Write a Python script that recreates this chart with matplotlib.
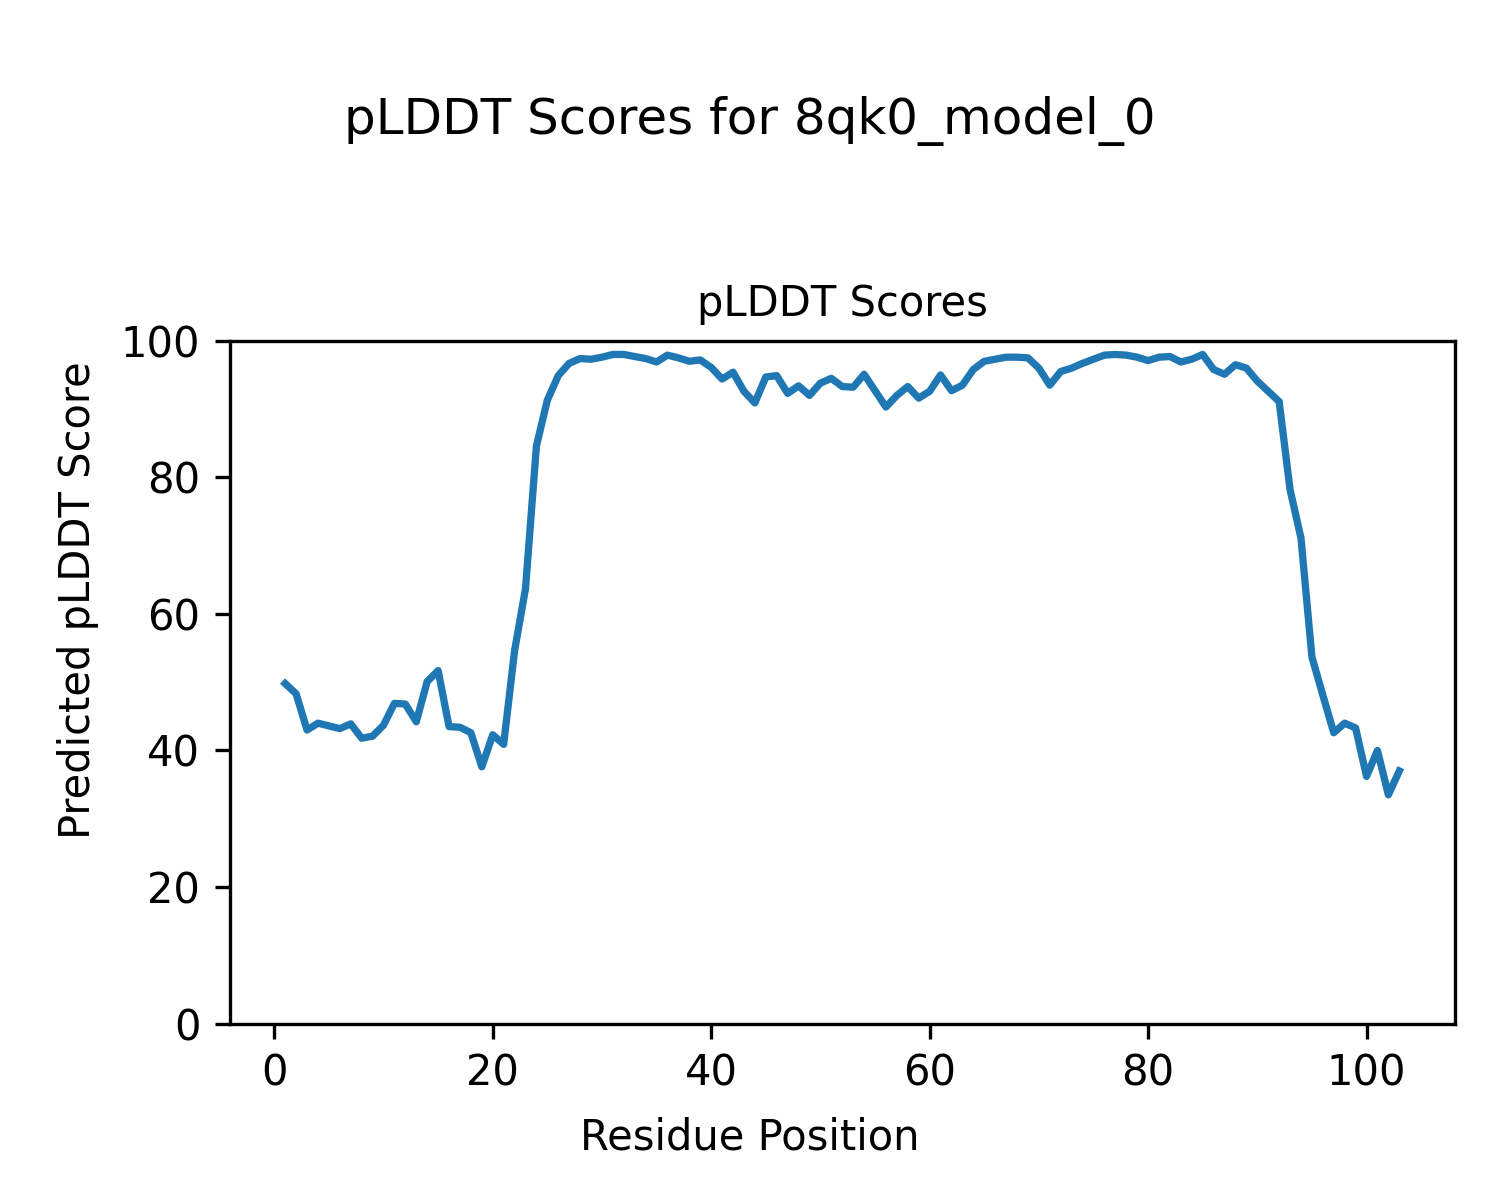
import matplotlib
matplotlib.use('Agg')
import matplotlib.pyplot as plt
import numpy as np

model_name = '8qk0_model_0'

# residue positions 1..103
residues = list(range(1, 104))

# pLDDT per residue
plddt = [
    49.8, 48.3, 43.0, 44.0, 43.6, 43.2, 43.9, 41.8, 42.1, 43.7,
    46.9, 46.8, 44.2, 50.1, 51.7, 43.5, 43.4, 42.6, 37.6, 42.3,
    40.9, 54.6, 63.7, 84.6, 91.3, 94.9, 96.7, 97.4, 97.3, 97.6,
    98.0, 98.0, 97.7, 97.4, 96.9, 97.9, 97.5, 97.0, 97.2, 96.1,
    94.4, 95.4, 92.6, 90.9, 94.7, 94.9, 92.3, 93.4, 92.0, 93.8,
    94.5, 93.3, 93.2, 95.1, 92.7, 90.3, 92.0, 93.3, 91.6, 92.6,
    95.0, 92.7, 93.5, 95.8, 97.0, 97.3, 97.6, 97.6, 97.5, 96.0,
    93.5, 95.5, 96.0, 96.7, 97.3, 97.9, 98.0, 97.9, 97.6, 97.1,
    97.6, 97.7, 96.9, 97.3, 98.0, 95.8, 95.1, 96.5, 96.0, 94.1,
    92.6, 91.1, 78.2, 71.1, 53.7, 48.1, 42.6, 44.0, 43.3, 36.2,
    40.0, 33.5, 37.0,
]

fig = plt.figure(figsize=(5, 4), dpi=300)
ax = fig.add_axes([0.153, 0.147, 0.817, 0.569])

ax.plot(residues, plddt, color='#1f77b4', linewidth=1.75)
ax.set_ylim(0, 100)
ax.set_title('pLDDT Scores', fontsize=10)

# shared labels sit at the figure centre, not the axes centre
fig.supxlabel('Residue Position', fontsize=10, y=0.052, va='center')
fig.supylabel('Predicted pLDDT Score', fontsize=10, x=0.052, ha='center')
fig.suptitle(f'pLDDT Scores for {model_name}', fontsize=12, y=0.92)

fig.savefig('out.png', dpi=300)
